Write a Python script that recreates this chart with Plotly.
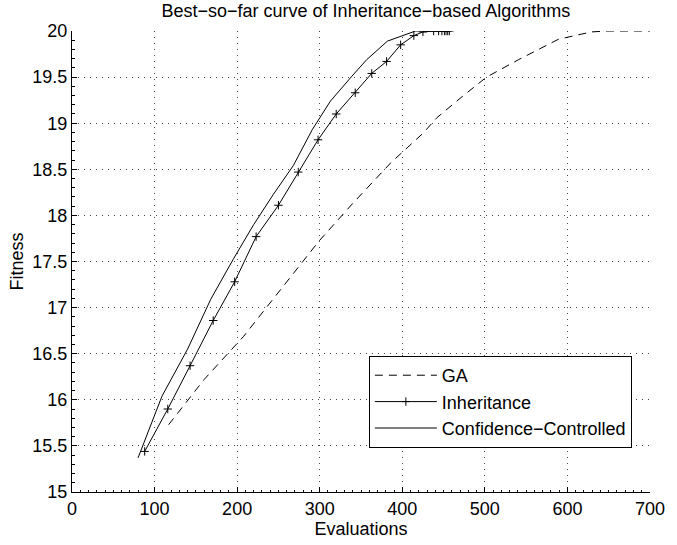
import plotly.graph_objects as go

# Best-so-far fitness versus number of evaluations
ga_evals = [117, 160, 208, 240, 299, 340, 386, 425, 442, 470, 502, 541, 589, 629, 648, 700]
ga_fit = [15.73, 16.22, 16.69, 17.05, 17.72, 18.13, 18.57, 18.89, 19.06, 19.27, 19.50, 19.69, 19.91, 19.99, 20.0, 20.0]

inh_evals = [88, 116, 143, 171, 197, 223, 250, 274, 298, 320, 343, 363, 381, 398, 414,
             425, 438, 444, 448, 451, 453, 455, 457]
inh_fit = [15.44, 15.90, 16.37, 16.86, 17.28, 17.77, 18.11, 18.47, 18.82, 19.10, 19.33, 19.54,
           19.67, 19.85, 19.95, 19.99, 20.0, 20.0, 20.0, 20.0, 20.0, 20.0, 20.0]

cc_evals = [80, 109, 140, 168, 195, 220, 244, 268, 291, 313, 339, 357, 382, 402, 416, 457]
cc_fit = [15.37, 16.04, 16.55, 17.09, 17.52, 17.90, 18.23, 18.54, 18.93, 19.24, 19.51, 19.69,
          19.89, 19.955, 20.0, 20.0]

x_ticks = [0, 100, 200, 300, 400, 500, 600, 700]
y_ticks = [15, 15.5, 16, 16.5, 17, 17.5, 18, 18.5, 19, 19.5, 20]
y_tick_text = ["15", "15.5", "16", "16.5", "17", "17.5", "18", "18.5", "19", "19.5", "20"]

FONT = "Liberation Sans, Arial, Helvetica, sans-serif"
FS = 18

fig = go.Figure()
fig.add_trace(go.Scatter(
    x=ga_evals, y=ga_fit, mode="lines", name="GA",
    line=dict(color="black", width=1, dash="8px,6px"),
))
fig.add_trace(go.Scatter(
    x=inh_evals, y=inh_fit, mode="lines+markers", name="Inheritance",
    line=dict(color="black", width=1),
    marker=dict(symbol="cross-thin", size=6, color="black",
                line=dict(color="black", width=1)),
))
fig.add_trace(go.Scatter(
    x=cc_evals, y=cc_fit, mode="lines", name="Confidence\u2212Controlled",
    line=dict(color="black", width=1),
))

axis_common = dict(
    showgrid=True, gridcolor="#444", gridwidth=1, griddash="1px,5px",
    showline=True, linecolor="black", linewidth=1, mirror=False,
    ticks="inside", ticklen=5, tickcolor="black", tickwidth=1,
    zeroline=False,
    tickfont=dict(family=FONT, size=FS, color="black"),
)

fig.update_xaxes(
    range=[0, 700], tickvals=x_ticks,
    minor=dict(ticks="inside", ticklen=2.5, dtick=10, tickcolor="black", showgrid=False),
    title=dict(text="Evaluations", font=dict(family=FONT, size=FS, color="black"), standoff=2),
    **axis_common,
)
fig.update_yaxes(
    range=[15, 20], tickvals=y_ticks, ticktext=y_tick_text,
    minor=dict(ticks="inside", ticklen=2.5, dtick=0.1, tickcolor="black", showgrid=False),
    title=dict(text="Fitness", font=dict(family=FONT, size=FS, color="black"), standoff=4),
    **axis_common,
)

fig.update_layout(
    width=677, height=545,
    margin=dict(l=72, r=17, t=31, b=52),
    paper_bgcolor="white", plot_bgcolor="white",
    font=dict(family=FONT, size=FS, color="black"),
    title=dict(
        text="Best\u2212so\u2212far curve of Inheritance\u2212based Algorithms",
        font=dict(family=FONT, size=FS, color="black"),
        x=0.5405, xanchor="center", xref="container",
        y=0.980, yanchor="middle", yref="container",
    ),
    legend=dict(
        x=0.5136, y=0.295, xanchor="left", yanchor="top",
        bgcolor="white", bordercolor="black", borderwidth=1,
        font=dict(family=FONT, size=FS, color="black"),
        itemwidth=62, tracegroupgap=0,
    ),
    showlegend=True,
)

fig.write_html("out.html")
